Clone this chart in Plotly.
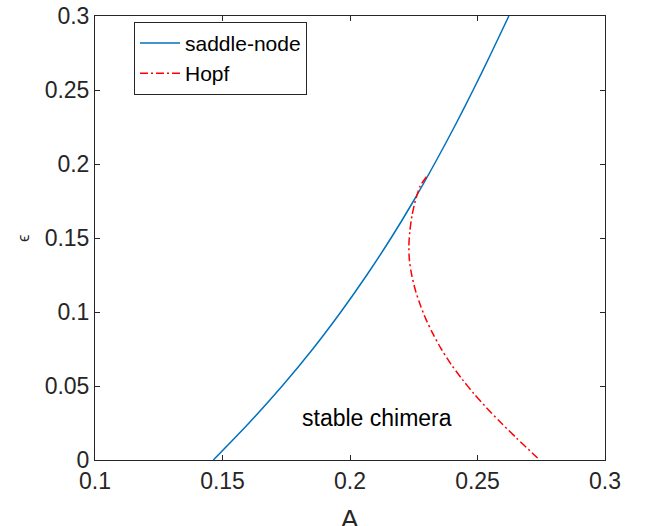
import plotly.graph_objects as go

# saddle-node branch
sn_eps = [0.0, 0.025, 0.05, 0.075, 0.1, 0.125, 0.15, 0.175, 0.2, 0.225, 0.25, 0.275, 0.3]
sn_A = [0.1464, 0.1604, 0.1734, 0.1854, 0.1964, 0.2066, 0.2161, 0.2249, 0.2331, 0.2409, 0.2483, 0.2554, 0.2623]

# Hopf branch
hb_eps = [0.1914, 0.185, 0.175, 0.165, 0.155, 0.145, 0.135, 0.125, 0.115, 0.105, 0.095,
          0.085, 0.075, 0.065, 0.055, 0.045, 0.035, 0.025, 0.015, 0.005, 0.0]
hb_A = [0.2300, 0.2275, 0.2256, 0.2243, 0.2235, 0.2231, 0.2233, 0.2242, 0.2256, 0.2275, 0.2298,
        0.2326, 0.2358, 0.2395, 0.2438, 0.2485, 0.2537, 0.2593, 0.2652, 0.2713, 0.2744]

x_ticks = [0.1, 0.15, 0.2, 0.25, 0.3]
x_ticklabels = ["0.1", "0.15", "0.2", "0.25", "0.3"]
y_ticks = [0, 0.05, 0.1, 0.15, 0.2, 0.25, 0.3]
y_ticklabels = ["0", "0.05", "0.1", "0.15", "0.2", "0.25", "0.3"]

FONT = "Liberation Sans, Arial, sans-serif"
AX = "#262626"

fig = go.Figure()
fig.add_trace(go.Scatter(x=sn_A, y=sn_eps, mode="lines", name="saddle-node",
                         line=dict(color="#0072BD", width=1.5, shape="spline", smoothing=0.8)))
fig.add_trace(go.Scatter(x=hb_A, y=hb_eps, mode="lines", name="Hopf",
                         line=dict(color="#FF0000", width=1.5, shape="spline", smoothing=0.8,
                                   dash="8px,3px,2px,3px")))

axis_common = dict(showline=True, linecolor=AX, linewidth=1, mirror="ticks",
                   ticks="inside", ticklen=5, tickcolor=AX, tickwidth=1,
                   showgrid=False, zeroline=False, automargin=False,
                   tickfont=dict(family=FONT, size=23, color=AX))

fig.update_xaxes(range=[0.1, 0.3], tickvals=x_ticks, ticktext=x_ticklabels, **axis_common)
fig.update_yaxes(range=[0, 0.3], tickvals=y_ticks, ticktext=y_ticklabels, **axis_common)

fig.add_annotation(x=0.5, y=-0.133, xref="paper", yref="paper", xanchor="center", yanchor="middle",
                   text="A", showarrow=False,
                   font=dict(family=FONT, size=26, color=AX))
fig.add_annotation(x=-0.141, y=0.5, xref="paper", yref="paper", xanchor="center", yanchor="middle",
                   text="ϵ", textangle=-90, showarrow=False,
                   font=dict(family=FONT, size=17, color=AX))
fig.add_annotation(x=0.2106, y=0.0284, xref="x", yref="y", xanchor="center", yanchor="middle",
                   text="stable chimera", showarrow=False,
                   font=dict(family=FONT, size=23, color="#000000"))

fig.update_layout(
    width=648, height=526,
    margin=dict(l=95, r=43, t=16, b=66, pad=0, autoexpand=False),
    paper_bgcolor="white", plot_bgcolor="white",
    showlegend=True,
    legend=dict(x=0.0765, y=0.987, xanchor="left", yanchor="top",
                bgcolor="white", bordercolor=AX, borderwidth=1,
                font=dict(family=FONT, size=21, color="#000000"),
                tracegroupgap=0, itemwidth=40),
)

fig.write_html("out.html")
